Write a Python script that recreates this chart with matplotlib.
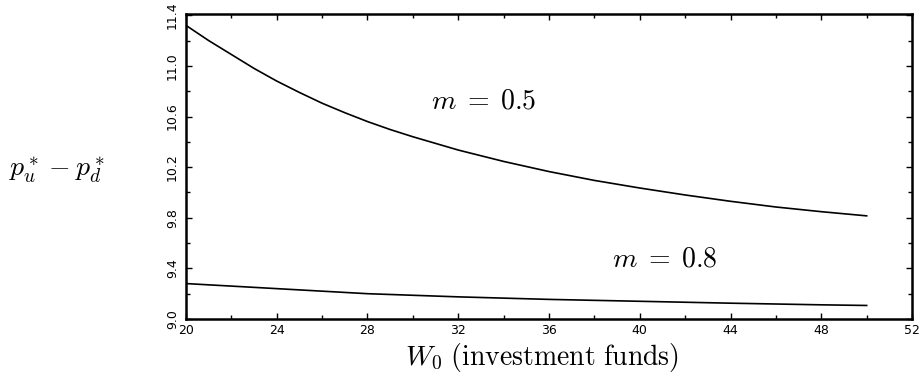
import matplotlib
matplotlib.use("Agg")
import matplotlib.pyplot as plt
from matplotlib.ticker import MultipleLocator

plt.rcParams['mathtext.fontset'] = 'cm'

# values
w0 = [20, 21, 22, 23, 24, 25, 26, 27, 28, 29, 30, 32, 34, 36, 38, 40, 42,
      44, 46, 48, 50]
m05 = [11.32, 11.20, 11.09, 10.98, 10.88, 10.79, 10.705, 10.63, 10.56, 10.497,
       10.44, 10.335, 10.245, 10.165, 10.095, 10.035, 9.98, 9.93, 9.885,
       9.848, 9.815]
w0_b = [20, 24, 28, 32, 36, 40, 44, 48, 50]
m08 = [9.28, 9.24, 9.20, 9.175, 9.155, 9.14, 9.125, 9.112, 9.107]

xticks = [20, 24, 28, 32, 36, 40, 44, 48, 52]
yticks = [9.0, 9.4, 9.8, 10.2, 10.6, 11.0, 11.4]

fig = plt.figure(figsize=(9.22, 3.82), dpi=100)
ax = fig.add_axes([0.2017, 0.1649, 0.7875, 0.7985])

ax.plot(w0, m05, color='black', lw=1.2)
ax.plot(w0_b, m08, color='black', lw=1.2)

ax.set_xlim(20, 52)
ax.set_ylim(9.0, 11.41)
ax.set_xticks(xticks)
ax.set_yticks(yticks)
ax.set_xticklabels([str(v) for v in xticks])
ax.set_yticklabels(['%.1f' % v for v in yticks], rotation=90, va='center')
ax.xaxis.set_minor_locator(MultipleLocator(2))
ax.yaxis.set_minor_locator(MultipleLocator(0.2))
ax.tick_params(which='both', direction='in', top=True, right=True,
               width=1.0, labelsize=9)
ax.tick_params(which='major', length=4)
ax.tick_params(which='minor', length=3)
ax.tick_params(axis='y', pad=5)
for s in ax.spines.values():
    s.set_linewidth(1.8)

ax.text(33.1, 10.73, r'$m\;=\;0.5$', fontsize=20, ha='center', va='center')
ax.text(41.1, 9.48, r'$m\;=\;0.8$', fontsize=20, ha='center', va='center')

fig.text(542 / 922, 1 - 357 / 382, r'$W_0\ (\mathrm{investment\ funds})$',
         fontsize=20, ha='center', va='center')
fig.text(57 / 922, 1 - 170 / 382, r'$p_u^* - p_d^*$',
         fontsize=20, ha='center', va='center')

fig.savefig('out.png', dpi=100)
